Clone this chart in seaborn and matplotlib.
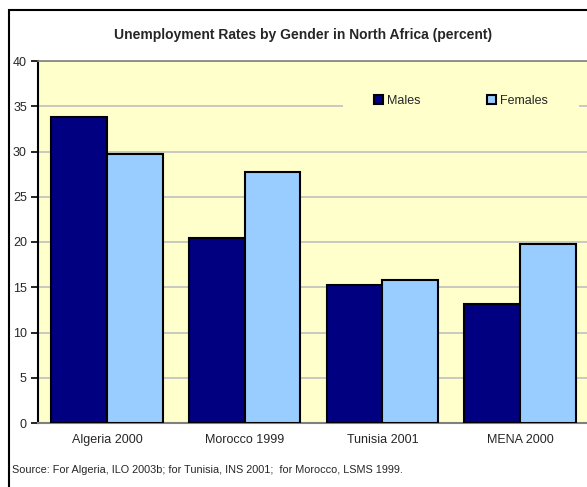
import matplotlib
matplotlib.use("Agg")
import matplotlib.pyplot as plt
from matplotlib.patches import Rectangle
import pandas as pd
import seaborn as sns

# Unemployment rates (percent) by gender
countries = ["Algeria 2000", "Morocco 1999", "Tunisia 2001", "MENA 2000"]
males = [33.8, 20.4, 15.2, 13.2]
females = [29.7, 27.7, 15.8, 19.8]
yticks = [0, 5, 10, 15, 20, 25, 30, 35, 40]

title = "Unemployment Rates by Gender in North Africa (percent)"
source = "Source: For Algeria, ILO 2003b; for Tunisia, INS 2001;  for Morocco, LSMS 1999."

df = pd.DataFrame({
    "Country": countries * 2,
    "Rate": males + females,
    "Gender": ["Males"] * len(countries) + ["Females"] * len(countries),
})

sns.set_theme(style="white")
plt.rcParams["font.family"] = ["Liberation Sans", "DejaVu Sans"]

W, H = 587, 487
fig = plt.figure(figsize=(W / 100, H / 100), dpi=100)
fig.patch.set_facecolor("white")

# Outer chart frame (runs off the right and bottom edges)
fig.add_artist(Rectangle((9 / W, -0.2), 1.5, 1.2 - 10 / H, transform=fig.transFigure,
                         fill=False, edgecolor="black", linewidth=1.5))

ax = fig.add_axes([38 / W, (H - 423) / H, (589 - 38) / W, (423 - 61) / H])
ax.set_facecolor("#FFFFCC")

sns.barplot(data=df, x="Country", y="Rate", hue="Gender",
            palette={"Males": "#000080", "Females": "#99CCFF"},
            width=0.81, gap=0, edgecolor="black", linewidth=1.5,
            saturation=1, ax=ax, zorder=3, legend=True)

ax.set_xlim(-0.5, 3.5)
ax.set_ylim(0, 40)
ax.set_yticks(yticks)
ax.set_yticklabels([str(t) for t in yticks], fontsize=9)
ax.yaxis.grid(True, color="#C0C0C0", linewidth=1.2, zorder=0)
ax.set_axisbelow(True)
ax.set_xlabel("")
ax.set_ylabel("")
ax.tick_params(axis="x", length=0, labelsize=9, pad=8)
ax.tick_params(axis="y", length=5, width=1.2, color="black", direction="out",
               left=True, pad=3, labelsize=9)

ax.spines["right"].set_visible(False)
ax.spines["left"].set_color("black")
ax.spines["left"].set_linewidth(1.5)
ax.spines["bottom"].set_color("#808080")
ax.spines["bottom"].set_linewidth(1.5)
ax.spines["top"].set_color("#808080")
ax.spines["top"].set_linewidth(1.2)

leg = ax.legend(ncol=2, frameon=True, fontsize=9, loc="center",
                bbox_to_anchor=((461 - 38) / (589 - 38), 1 - (101 - 61) / (423 - 61)),
                handlelength=0.75, handleheight=0.75, handletextpad=0.3,
                columnspacing=5.3, borderpad=2.5, fancybox=False)
leg.get_frame().set_facecolor("#FFFFCC")
leg.get_frame().set_edgecolor("none")
leg.get_frame().set_alpha(1)
for h in leg.legend_handles:
    h.set_edgecolor("black")
    h.set_linewidth(1.5)

fig.text(303 / W, 1 - 35 / H, title, ha="center", va="center",
         fontsize=10, fontweight="bold")
fig.text(12 / W, 1 - 470 / H, source, ha="left", va="center", fontsize=7.8)

fig.savefig("out.png", dpi=100)
